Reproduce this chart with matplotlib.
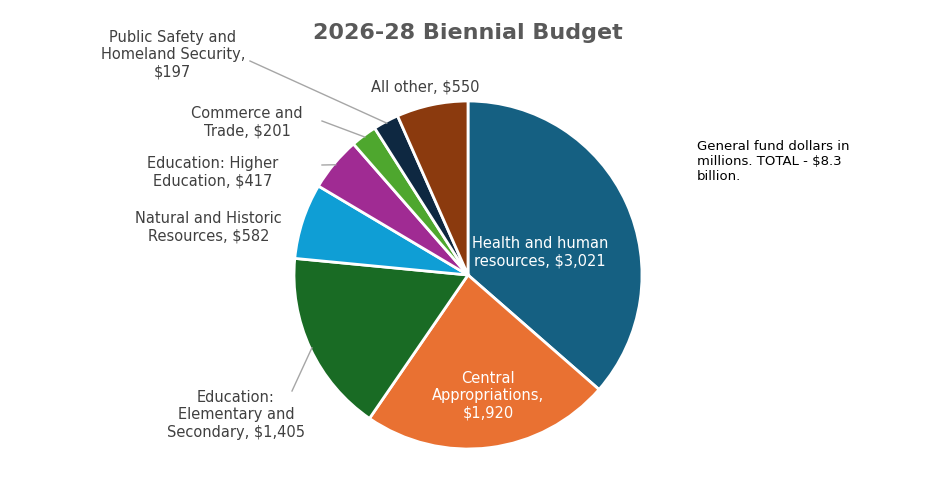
import matplotlib
matplotlib.use("Agg")
import matplotlib.pyplot as plt
import numpy as np

labels = ["Health and human\nresources, $3,021", "Central\nAppropriations,\n$1,920",
          "Education:\nElementary and\nSecondary, $1,405", "Natural and Historic\nResources, $582",
          "Education: Higher\nEducation, $417", "Commerce and\nTrade, $201",
          "Public Safety and\nHomeland Security,\n$197", "All other, $550"]
values = [3021, 1920, 1405, 582, 417, 201, 197, 550]
colors = ["#156082", "#E97132", "#196B24", "#0F9ED5", "#A02B93", "#4EA72E", "#0E2841", "#8B3A0E"]

fig = plt.figure(figsize=(9.36, 5.02), dpi=100)
W, H = 936, 502
cx, cy, r = 468, 276, 174
ax = fig.add_axes([(cx - r) / W, (H - cy - r) / H, 2 * r / W, 2 * r / H])
wedges, _ = ax.pie(values, colors=colors, startangle=90, counterclock=False,
                   wedgeprops=dict(edgecolor="white", linewidth=2))
ax.set_xlim(-1, 1); ax.set_ylim(-1, 1); ax.set_aspect("equal")

def d(px, py):
    return ((px - cx) / r, (cy - py) / r)

fs = 10.5
ax.text(*d(540, 252), labels[0], color="white", ha="center", va="center", fontsize=fs)
ax.text(*d(488, 396), labels[1], color="white", ha="center", va="center", fontsize=fs)
ax.text(*d(425, 87), labels[7], color="#404040", ha="center", va="center", fontsize=fs)

outside = {2: ((305, 415), (292, 392)), 3: ((282, 227), None), 4: ((278, 172), (322, 166)),
           5: ((303, 122), (322, 122)), 6: ((245, 55), (250, 62))}
for i, (lp, lstart) in outside.items():
    w = wedges[i]
    th = np.deg2rad((w.theta1 + w.theta2) / 2)
    ax.text(*d(*lp), labels[i], ha="right", va="center", color="#404040", fontsize=fs,
            multialignment="center")
    if lstart is not None:
        ex, ey = 0.99 * np.cos(th), 0.99 * np.sin(th)
        sx, sy = d(*lstart)
        ax.plot([sx, ex], [sy, ey], color="#A6A6A6", lw=1, clip_on=False)

fig.text(468 / W, 1 - 33 / H, "2026-28 Biennial Budget", ha="center", va="center",
         fontsize=16, fontweight="bold", color="#595959")
fig.text(697 / W, 1 - 162 / H, "General fund dollars in\nmillions. TOTAL - $8.3\nbillion.",
         ha="left", va="center", fontsize=9.5, color="black")
fig.savefig("out.png", dpi=100)
